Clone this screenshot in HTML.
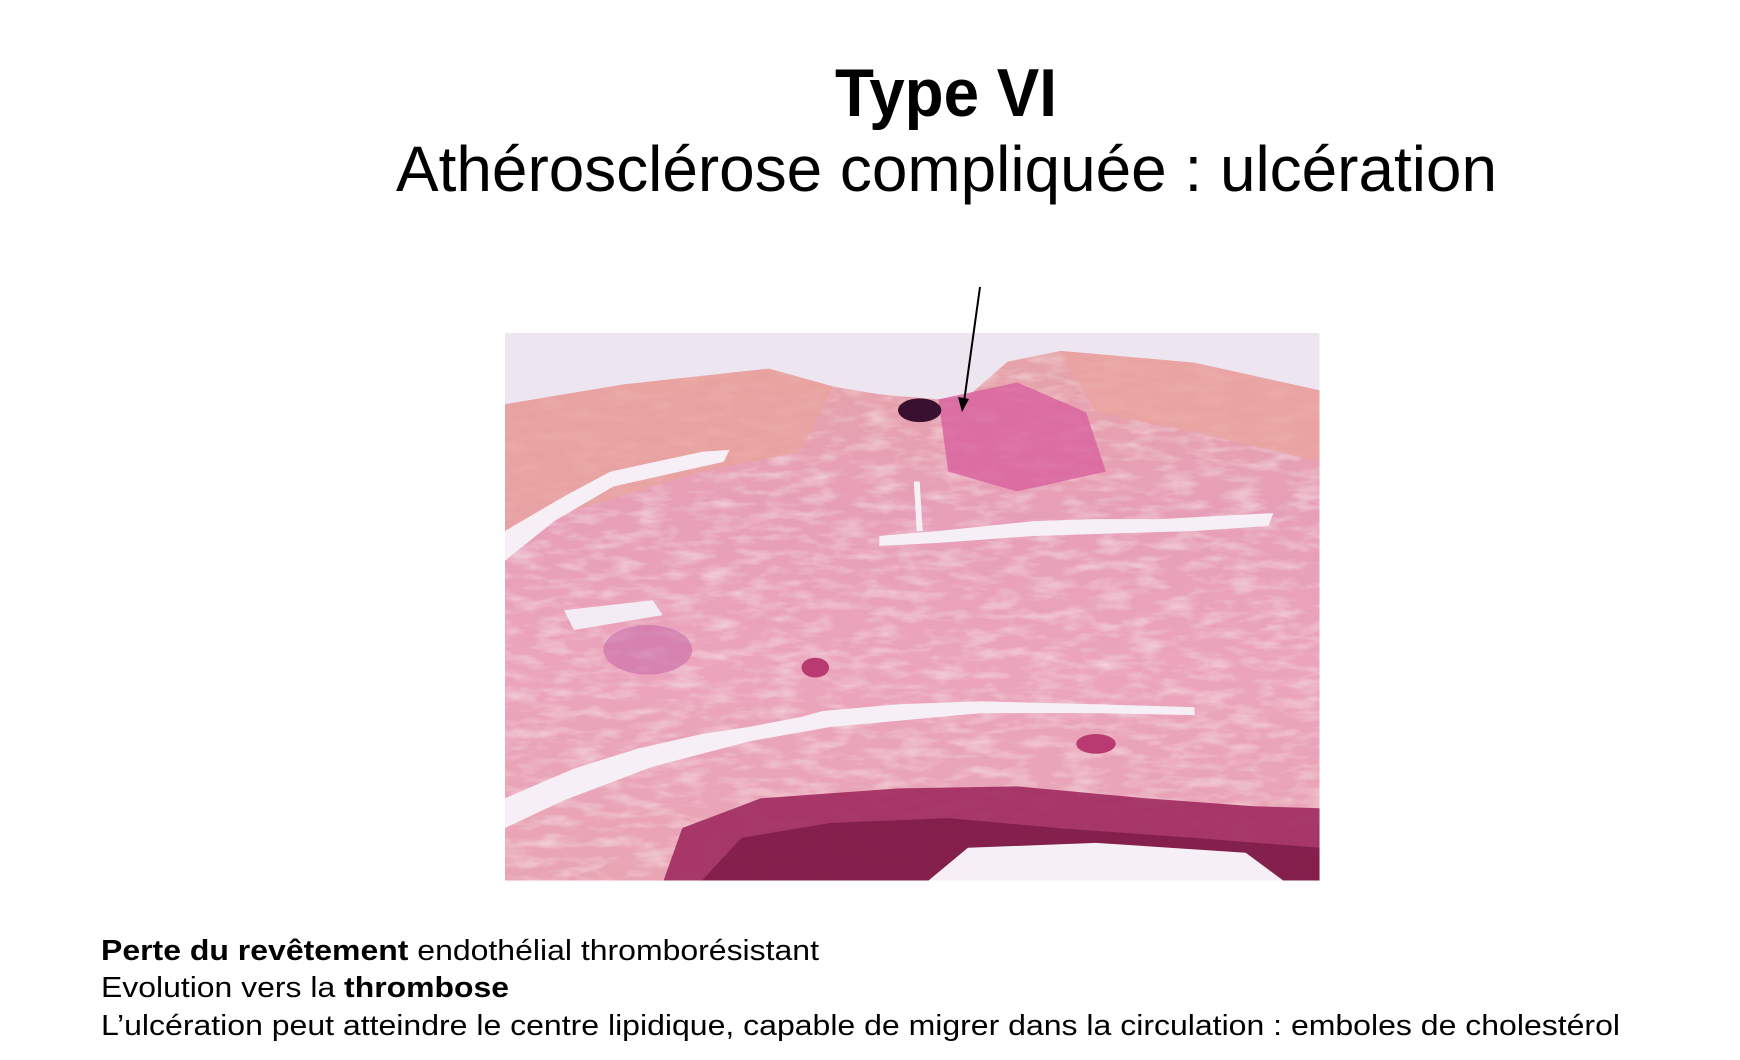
<!DOCTYPE html>
<html><head><meta charset="utf-8">
<style>
html,body{margin:0;padding:0;background:#fff;}
body{width:1740px;height:1060px;position:relative;overflow:hidden;font-family:"Liberation Sans",Arial,sans-serif;}
svg{position:absolute;left:0;top:0;}
</style></head>
<body>
<svg width="1740" height="1060" viewBox="0 0 1740 1060">
  <defs>
    <filter id="tex" x="0" y="0" width="1" height="1">
      <feTurbulence type="fractalNoise" baseFrequency="0.03 0.1" numOctaves="3" seed="4" result="n"/>
      <feColorMatrix in="n" type="matrix" values="0 0 0 0 1  0 0 0 0 1  0 0 0 0 1  0 0 0 -0.8 0.45" result="w"/>
      <feComposite in="w" in2="SourceGraphic" operator="in" result="wi"/>
      <feMerge><feMergeNode in="SourceGraphic"/><feMergeNode in="wi"/></feMerge>
    </filter>
    <linearGradient id="bg" x1="0" y1="0" x2="0" y2="1">
      <stop offset="0" stop-color="#e6a2a8"/>
      <stop offset="0.3" stop-color="#e79fb8"/>
      <stop offset="0.6" stop-color="#eba4bc"/>
      <stop offset="1" stop-color="#e9a4b4"/>
    </linearGradient>
    <clipPath id="imgclip"><rect x="0" y="0" width="827" height="553"/></clipPath>
  </defs>

  <text x="946" y="116" text-anchor="middle" font-family="Liberation Sans, Arial, sans-serif" font-weight="bold" font-size="68" textLength="222" lengthAdjust="spacingAndGlyphs" fill="#000">Type VI</text>
  <text x="396" y="191" font-family="Liberation Sans, Arial, sans-serif" font-size="64" textLength="1101" lengthAdjust="spacingAndGlyphs" fill="#000">Athérosclérose compliquée : ulcération</text>

  <g transform="translate(505,333) scale(0.985,0.99)" clip-path="url(#imgclip)">
    <rect x="0" y="0" width="827" height="553" fill="#ede5ef"/>
    <path d="M0,72 L120,52 L268,36 L333,54 L380,62 L440,67 L470,64 L510,29 L564,18 L700,30 L827,58 L827,553 L0,553 Z" fill="url(#bg)" filter="url(#tex)"/>
    <path d="M0,72 L120,52 L268,36 L333,54 L300,120 L200,140 L0,200 Z" fill="#e8a29e" opacity="0.8"/>
    <path d="M564,18 L700,30 L827,58 L827,130 L700,100 L600,80 Z" fill="#eaa4a0" opacity="0.8"/>
    <path d="M440,67 L520,50 L590,80 L610,140 L520,160 L450,140 Z" fill="#d8609e" opacity="0.8"/>
    <ellipse cx="421" cy="78" rx="22" ry="12" fill="#3a1030"/>
    <path d="M0,200 L60,165 L107,140 L200,120 L228,118 L222,130 L110,155 L50,190 L0,230 Z" fill="#f6f0f6"/>
    <path d="M380,205 L440,200 L537,190 L600,188 L666,188 L720,185 L780,182 L775,195 L700,200 L600,203 L537,205 L440,212 L380,215 Z" fill="#f6f0f6"/>
    <path d="M415,150 L418,200 L424,200 L421,150 Z" fill="#f6f0f6"/>
    <path d="M60,280 L150,270 L160,285 L70,300 Z" fill="#f4ecf4"/>
    <path d="M0,470 L70,440 L134,420 L200,405 L247,398 L300,388 L322,382 L400,375 L483,372 L600,375 L700,378 L700,386 L600,384 L483,384 L330,398 L250,412 L150,438 L60,472 L0,500 Z" fill="#f6f0f6"/>
    <path d="M161,553 L180,500 L260,470 L400,460 L520,458 L650,470 L760,478 L827,480 L827,553 Z" fill="#9e2a5e" opacity="0.9"/>
    <path d="M200,553 L240,510 L330,495 L450,490 L560,500 L700,510 L827,520 L827,553 Z" fill="#7c1a46" opacity="0.8"/>
    <path d="M430,553 L470,520 L600,515 L752,525 L790,553 Z" fill="#f6f0f6"/>
    <ellipse cx="145" cy="320" rx="45" ry="25" fill="#c86aa6" opacity="0.6"/>
    <ellipse cx="315" cy="338" rx="14" ry="10" fill="#b83a70"/>
    <ellipse cx="600" cy="415" rx="20" ry="10" fill="#b83a70"/>
  </g>

  <line x1="980" y1="287" x2="964" y2="402" stroke="#000" stroke-width="2"/>
  <path d="M962,412 L958,397 L969,399 Z" fill="#000"/>

  <g font-family="Liberation Sans, Arial, sans-serif" font-size="29" fill="#000">
    <text x="101" y="960" textLength="718" lengthAdjust="spacingAndGlyphs"><tspan font-weight="bold">Perte du revêtement</tspan> endothélial thromborésistant</text>
    <text x="101" y="997" textLength="408" lengthAdjust="spacingAndGlyphs">Evolution vers la <tspan font-weight="bold">thrombose</tspan></text>
    <text x="101" y="1035" textLength="1519" lengthAdjust="spacingAndGlyphs">L’ulcération peut atteindre le centre lipidique, capable de migrer dans la circulation : emboles de cholestérol</text>
  </g>
</svg>
</body></html>
